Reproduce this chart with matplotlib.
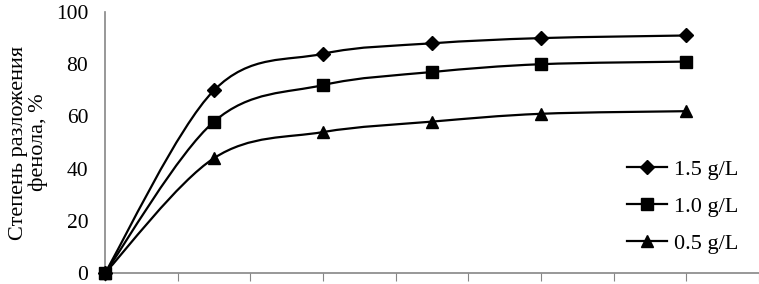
import numpy as np
import matplotlib
matplotlib.use("Agg")
import matplotlib.pyplot as plt
from matplotlib.path import Path
from matplotlib.patches import PathPatch

plt.rcParams['font.family'] = ['Liberation Serif', 'DejaVu Serif']

# data
time = [0, 15, 30, 45, 60, 80]
conc_labels = ['1.5 g/L', '1.0 g/L', '0.5 g/L']
deg_15 = [0, 70, 84, 88, 90, 91]
deg_10 = [0, 58, 72, 77, 80, 81]
deg_05 = [0, 44, 54, 58, 61, 62]
markers = ['D', 's', '^']
msizes = [7, 8, 8]
mzorder = [3, 5, 4]


def smooth_path(x, y):
    # Catmull-Rom style bezier, like excel "smoothed line"
    x = np.asarray(x, float)
    y = np.asarray(y, float)
    px = np.concatenate([[x[0]], x, [x[-1]]])
    py = np.concatenate([[y[0]], y, [y[-1]]])
    verts = [(x[0], y[0])]
    codes = [Path.MOVETO]
    for i in range(1, len(px) - 2):
        c1 = (px[i] + (px[i + 1] - px[i - 1]) / 6, py[i] + (py[i + 1] - py[i - 1]) / 6)
        c2 = (px[i + 1] - (px[i + 2] - px[i]) / 6, py[i + 1] - (py[i + 2] - py[i]) / 6)
        verts += [c1, c2, (px[i + 1], py[i + 1])]
        codes += [Path.CURVE4] * 3
    return Path(verts, codes)


fig = plt.figure(figsize=(7.59, 2.84), dpi=100)
ax = fig.add_axes([105 / 759, 11 / 284, 654 / 759, 261 / 284])

for vals, lab, m, ms, z in zip([deg_15, deg_10, deg_05], conc_labels, markers, msizes, mzorder):
    ax.add_patch(PathPatch(smooth_path(time, vals), fill=False, lw=1.6, color='black', zorder=2))
    ax.plot(time, vals, ls='none', marker=m, ms=ms, color='black', zorder=z, clip_on=False)
    ax.plot([], [], color='black', lw=1.6, marker=m, ms=ms, label=lab)

ax.set_xlim(0, 90)
ax.set_ylim(0, 100)
ax.set_xticks(np.arange(0, 91, 10))
ax.set_xticklabels([])
ax.set_yticks(np.arange(0, 101, 20))
ax.tick_params(axis='x', length=6, color='#868686', direction='out')
ax.tick_params(axis='y', length=0, labelsize=15.5, pad=12)
for s in ['top', 'right']:
    ax.spines[s].set_visible(False)
for s in ['left', 'bottom']:
    ax.spines[s].set_color('#868686')
    ax.spines[s].set_linewidth(1.2)

ax.set_ylabel('Степень разложения\nфенола, %', fontsize=16, linespacing=1.0,
              labelpad=6, multialignment='center')
ax.legend(loc='center left', bbox_to_anchor=(502 / 654, 0.255), frameon=False, fontsize=16,
          handlelength=1.8, labelspacing=0.75, handletextpad=0.3)

fig.savefig('out.png', dpi=100)
